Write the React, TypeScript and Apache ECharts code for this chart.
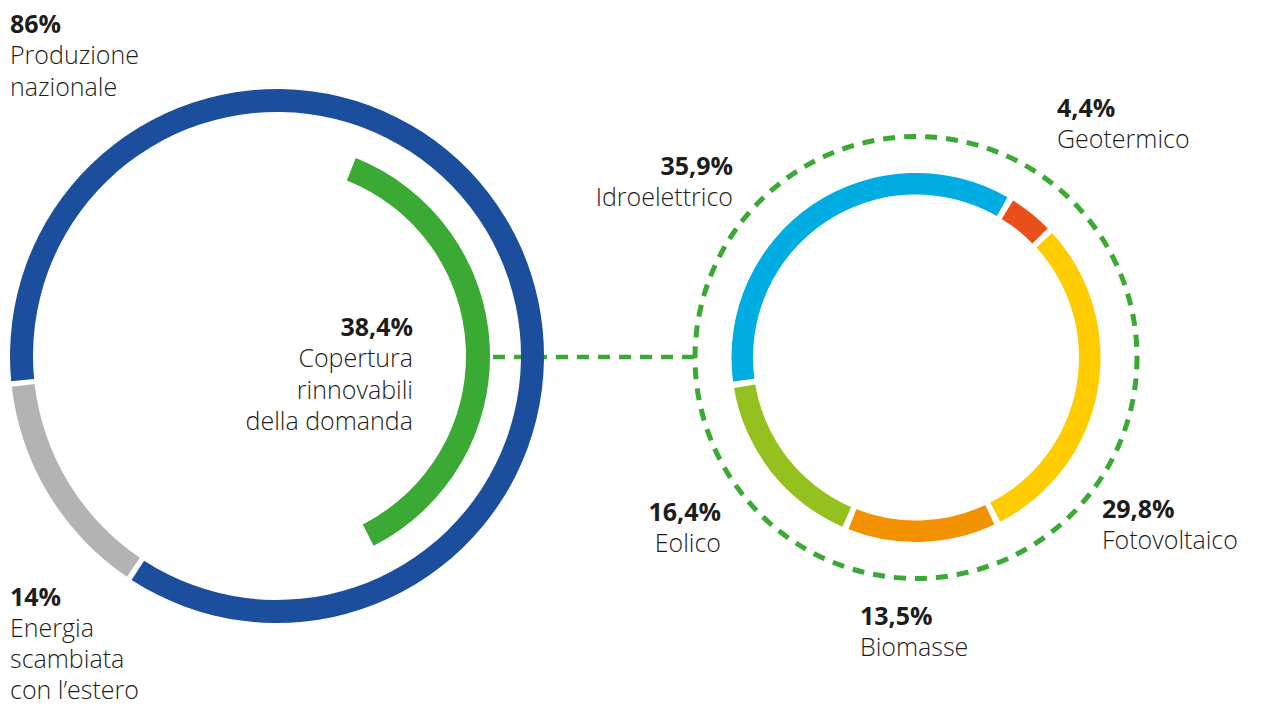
import React, { useEffect, useRef } from "react";
import * as echarts from "echarts";

// ---- data ----
const originNames = ["Produzione nazionale", "Energia scambiata con l'estero"];
const originValues = [86, 14];
const originColors = ["#1b4f9e", "#b3b3b3"];

const renewableName = "Copertura rinnovabili della domanda";
const renewableShare = 38.4;

const sourceNames = ["Idroelettrico", "Geotermico", "Fotovoltaico", "Biomasse", "Eolico"];
const sourceValues = [35.9, 4.4, 29.8, 13.5, 16.4];
const sourceColors = ["#00ade2", "#e94e1b", "#ffcc00", "#f39200", "#95c11f"];

const fmt = (v: number) => String(v).replace(".", ",") + "%";

// ---- label layout (positions only) ----
type Lbl = { value: string; lines: string[]; x: number; y: number; align: "left" | "right"; lh: number };
const labels: Lbl[] = [
  { value: fmt(originValues[0]), lines: ["Produzione", "nazionale"], x: 10, y: 33, align: "left", lh: 31.5 },
  { value: fmt(originValues[1]), lines: ["Energia", "scambiata", "con l\u2019estero"], x: 10, y: 606, align: "left", lh: 31.2 },
  { value: fmt(renewableShare), lines: ["Copertura", "rinnovabili", "della domanda"], x: 413, y: 336, align: "right", lh: 31.5 },
  { value: fmt(sourceValues[0]), lines: ["Idroelettrico"], x: 733, y: 175, align: "right", lh: 31.5 },
  { value: fmt(sourceValues[1]), lines: ["Geotermico"], x: 1057, y: 117, align: "left", lh: 31.5 },
  { value: fmt(sourceValues[2]), lines: ["Fotovoltaico"], x: 1102, y: 518, align: "left", lh: 31.5 },
  { value: fmt(sourceValues[3]), lines: ["Biomasse"], x: 860, y: 625, align: "left", lh: 31.5 },
  { value: fmt(sourceValues[4]), lines: ["Eolico"], x: 721, y: 521, align: "right", lh: 31.5 },
];

const FONT = "'Open Sans', 'Noto Sans', sans-serif";
const TEXT = "#1d1d1b";
const GREEN = "#3aaa35";

const LEFT_C = [277, 356];
const RIGHT_C = [916, 357.5];

export default function App() {
  const ref = useRef<HTMLDivElement>(null);
  useEffect(() => {
    if (!ref.current) return;
    const chart = echarts.init(ref.current, undefined, { renderer: "svg" });

    const graphics: any[] = [];
    labels.forEach((l) => {
      graphics.push({
        type: "text",
        silent: true,
        style: {
          text: l.value,
          x: l.x,
          y: l.y - 10.5,
          font: `700 25px ${FONT}`,
          fill: TEXT,
          align: l.align,
          verticalAlign: "middle",
        },
      });
      l.lines.forEach((line, i) => {
        graphics.push({
          type: "text",
          silent: true,
          style: {
            text: line,
            x: l.x,
            y: l.y + l.lh * (i + 1) - 10.5,
            font: `300 25px ${FONT}`,
            fill: TEXT,
            align: l.align,
            verticalAlign: "middle",
          },
        });
      });
    });
    // dashed connector
    graphics.push({
      type: "line",
      silent: true,
      shape: { x1: LEFT_C[0] + 216, y1: 357, x2: RIGHT_C[0] - 221, y2: 357 },
      style: { stroke: GREEN, lineWidth: 4.5, lineDash: [12, 9] },
    });
    graphics.push({
      type: "circle",
      silent: true,
      shape: { cx: RIGHT_C[0], cy: RIGHT_C[1], r: 221 },
      style: { fill: "none", stroke: GREEN, lineWidth: 5, lineDash: [12, 9] },
    });

    const common = {
      type: "pie",
      silent: true,
      label: { show: false },
      labelLine: { show: false },
      emphasis: { disabled: true },
      clockwise: true,
    };

    chart.setOption({
      animation: false,
      backgroundColor: "#ffffff",
      series: [
        {
          ...common,
          center: LEFT_C,
          radius: [244, 267],
          startAngle: 186,
          padAngle: 1.2,
          data: originNames.map((n, i) => ({ name: n, value: originValues[i], itemStyle: { color: originColors[i] } })),
        },
        {
          ...common,
          center: LEFT_C,
          radius: [189, 213],
          startAngle: 68.3,
          endAngle: -63,
          data: [{ name: renewableName, value: renewableShare, itemStyle: { color: GREEN } }],
        },
        {
          ...common,
          center: RIGHT_C,
          radius: [163, 184.5],
          startAngle: 188.5,
          padAngle: 2,
          data: sourceNames.map((n, i) => ({ name: n, value: sourceValues[i], itemStyle: { color: sourceColors[i] } })),
        },
      ],
      graphic: graphics,
    });
    return () => chart.dispose();
  }, []);
  return <div ref={ref} style={{ position: "fixed", left: 0, top: 0, width: 1267, height: 706 }} />;
}
